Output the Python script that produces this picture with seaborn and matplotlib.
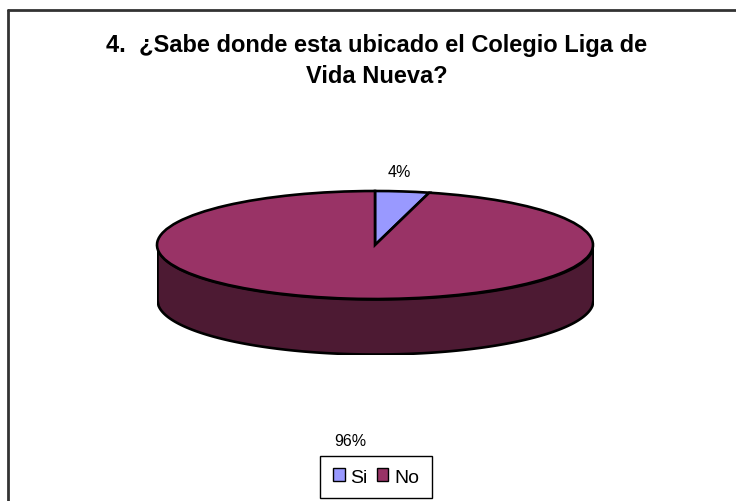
import numpy as np
import matplotlib
matplotlib.use("Agg")
import matplotlib.pyplot as plt
from matplotlib.lines import Line2D
from matplotlib.patches import Patch
import seaborn as sns

# data
categories = ["Si", "No"]
values = [4, 96]
colors = ["#9999FF", "#993366"]
side_color = "#4D1A33"
title = "4.  ¿Sabe donde esta ubicado el Colegio Liga de\nVida Nueva?"

sns.set_style("white")
plt.rcParams['font.family'] = ['Liberation Sans', 'DejaVu Sans']
plt.rcParams['text.color'] = 'black'

W, H = 736, 502
fig = plt.figure(figsize=(W / 100, H / 100), dpi=100)

# pie axes: ellipse rx=218px, ry=54px, depth ~55px
cx, cy, rx, ry, depth_px = 375, 246, 218, 54, 55
depth = depth_px / ry
ax = fig.add_axes([(cx - rx) / W, (H - (cy + ry + depth_px)) / H, 2 * rx / W, (2 * ry + depth_px) / H])

# side of the cylinder (front half)
x = np.linspace(-1, 1, 400)
top_curve = -np.sqrt(np.clip(1 - x ** 2, 0, None))
ax.fill_between(x, top_curve - depth, top_curve, color=side_color, edgecolor="black", linewidth=1.9, zorder=1)

wedges, _ = ax.pie(values, colors=colors, startangle=90, counterclock=False,
                   wedgeprops=dict(edgecolor="black", linewidth=1.9))
for w in wedges:
    w.set_zorder(2)

ax.set_aspect("auto")
ax.set_xlim(-1, 1)
ax.set_ylim(-1 - depth, 1)
ax.axis("off")

# percentage labels
total = sum(values)
start = 90.0
label_r = [1.37, 3.65]
for v, r in zip(values, label_r):
    mid = np.deg2rad(start - v / total * 180)
    start -= v / total * 360
    ax.text(np.cos(mid) * 0.9, np.sin(mid) * r, f"{v / total * 100:.0f}%",
            ha="center", va="center", fontsize=11.5, color="black")

fig.text(377 / W, 1 - 61 / H, title, ha="center", va="center", fontsize=17,
         fontweight="bold", linespacing=1.4, color="black")

handles = [Patch(facecolor=c, edgecolor="black", label=l) for c, l in zip(colors, categories)]
fig.legend(handles=handles, loc="center", bbox_to_anchor=(376 / W, 1 - 478 / H), ncol=2,
           fancybox=False, edgecolor="black", framealpha=1, fontsize=14,
           handlelength=0.6, handleheight=0.6, handletextpad=0.3, columnspacing=0.45,
           borderpad=0.65)

# outer chart frame (top and left edges visible)
fig.add_artist(Line2D([8 / W, 1], [1 - 11 / H, 1 - 11 / H], color="#333333", linewidth=2))
fig.add_artist(Line2D([8 / W, 8 / W], [1 - 11 / H, 0], color="#333333", linewidth=2))

fig.savefig("out.png", dpi=100)
